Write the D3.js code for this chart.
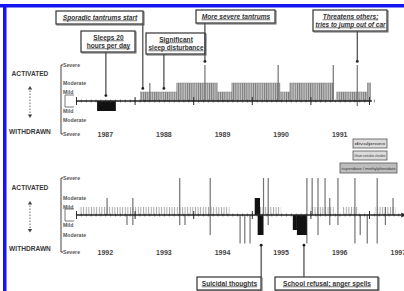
<!DOCTYPE html>
<html>
<head>
<meta charset="utf-8">
<script src="https://cdn.jsdelivr.net/npm/d3@7"></script>
<style>
  body { margin: 0; background: #fff; }
  svg { display: block; }
  text { font-family: Arial, "Liberation Sans", sans-serif; }
</style>
</head>
<body>
<div id="chart"></div>
<script>
// severity levels (positive = activated, negative = withdrawn)
const levelValues = [3, 2, 1, 0, -1, -2, -3];
const levelLabels = ['Severe', 'Moderate', 'Mild', '', 'Mild', 'Moderate', 'Severe'];

const topYears = [1987, 1988, 1989, 1990, 1991];
const bottomYears = [1992, 1993, 1994, 1995, 1996, 1997];

// shaded activated episodes: [start, end, level]
const topEpisodes = [
  [1988.10, 1988.72, 1], [1988.72, 1989.41, 2], [1989.41, 1989.66, 1],
  [1989.66, 1990.48, 2], [1990.48, 1990.65, 1], [1990.65, 1991.39, 2],
  [1991.45, 1991.97, 1], [1991.97, 1992.03, 2]
];
// single peaks: [date, up level, down level]
const topSpikes = [
  [1988.26, 2, 0], [1989.20, 3, 0], [1990.45, 3, 0], [1991.39, 3, 0], [1991.80, 3, -0.5]
];
// solid black episodes: [start, end, level]
const topSolid = [[1987.36, 1987.68, -1]];

const bottomEpisodes = [
  [1992.05, 1994.62, 1], [1995.05, 1995.50, 1], [1996.00, 1996.40, 1],
  [1996.55, 1996.82, 1], [1997.10, 1997.45, 1]
];
const bottomSpikes = [
  [1992.53, 2, 0], [1992.87, 0, -1], [1992.97, 2, -1], [1993.77, 3, -1], [1993.86, 0, -1],
  [1994.29, 3, -2], [1994.80, 0, -2.5], [1994.88, 0, -2.5], [1994.97, 0, -2.5],
  [1995.20, 3, 0], [1995.28, 3, -1], [1995.94, 3, -2.5], [1996.03, 3, 0],
  [1996.13, 3, -2], [1996.25, 3, 0], [1996.33, 2, -1], [1996.47, 3, -1],
  [1996.76, 3, -2.5], [1996.85, 0, -2], [1996.97, 0, -2.5], [1997.14, 3, -2.5],
  [1997.28, 1, -1], [1997.41, 2, 0]
];
const bottomSolid = [
  [1995.05, 1995.14, 2], [1995.10, 1995.20, -2],
  [1995.70, 1995.77, -1.5], [1995.77, 1995.94, -2]
];

// annotations: text lines, date, level pointed at
const topNotes = [
  { lines: ['Sporadic tantrums start'], date: 1988.14, level: 1.4, italic: true },
  { lines: ['Sleeps 20', 'hours per day'], date: 1987.51, level: 0.6, italic: false },
  { lines: ['Significant', 'sleep disturbance'], date: 1988.50, level: 1.4, italic: false },
  { lines: ['More severe tantrums'], date: 1989.20, level: 3.2, italic: true },
  { lines: ['Threatens others;', 'tries to jump out of car'], date: 1991.80, level: 3.2, italic: true }
];
const bottomNotes = [
  { lines: ['Suicidal thoughts'], date: 1995.16, level: -2.6 },
  { lines: ['School refusal; anger spells'], date: 1995.89, level: -2.6 }
];
const legendRows = ['divalproex', 'lithium  sertraline  clonidine', 'risperidone / methylphenidate'];

const W = 404, H = 291;
const svg = d3.select('#chart').append('svg').attr('width', W).attr('height', H);
svg.append('rect').attr('width', W).attr('height', H).attr('fill', '#fff');

const defs = svg.append('defs');
const hatch = defs.append('pattern').attr('id', 'hatch')
  .attr('patternUnits', 'userSpaceOnUse').attr('width', 2.2).attr('height', 10);
hatch.append('rect').attr('width', 2.2).attr('height', 10).attr('fill', '#c2c2c2');
hatch.append('line').attr('x1', 0.5).attr('x2', 0.5).attr('y1', 0).attr('y2', 10)
  .attr('stroke', '#6e6e6e').attr('stroke-width', 0.8);
const hatch2 = defs.append('pattern').attr('id', 'hatch2')
  .attr('patternUnits', 'userSpaceOnUse').attr('width', 2.6).attr('height', 10);
hatch2.append('line').attr('x1', 0.5).attr('x2', 0.5).attr('y1', 0).attr('y2', 10)
  .attr('stroke', '#a0a0a0').attr('stroke-width', 0.9);

// blue frame (top and left edges)
svg.append('rect').attr('x', 0).attr('y', 4).attr('width', W).attr('height', 3.5).attr('fill', '#1414f5');
svg.append('rect').attr('x', 3).attr('y', 4).attr('width', 3.5).attr('height', H - 4).attr('fill', '#1414f5');

function drawPanel(cfg) {
  const x = d3.scaleLinear().domain([cfg.years[0], cfg.years[0] + 5]).range([76, 369]);
  const y = d3.scaleLinear().domain(levelValues.slice().reverse()).range(cfg.yRange.slice().reverse());
  const base = y(0);
  const g = svg.append('g');

  // left key: ACTIVATED / WITHDRAWN
  g.append('text').attr('x', 30).attr('y', y(2.4)).attr('text-anchor', 'middle')
    .attr('font-size', 6.6).attr('fill', '#3a3a3a').attr('font-weight', 'bold').text('ACTIVATED');
  g.append('text').attr('x', 30).attr('y', y(-2.6) + 6).attr('text-anchor', 'middle')
    .attr('font-size', 6.6).attr('fill', '#3a3a3a').attr('font-weight', 'bold').text('WITHDRAWN');
  g.append('line').attr('x1', 30).attr('x2', 30).attr('y1', y(1.5)).attr('y2', y(-1.6))
    .attr('stroke', '#666').attr('stroke-width', 1).attr('stroke-dasharray', '1.5,1.5');
  g.append('path').attr('d', `M27.8,${y(1.5) + 2}L30,${y(1.5) - 1.5}L32.2,${y(1.5) + 2}Z`).attr('fill', '#444');
  g.append('path').attr('d', `M27.8,${y(-1.6) - 2}L30,${y(-1.6) + 1.5}L32.2,${y(-1.6) - 2}Z`).attr('fill', '#444');

  // bracket with severity labels
  g.append('path').attr('d', `M63,${y(3)}H61V${y(-3)}H63`).attr('fill', 'none')
    .attr('stroke', '#444').attr('stroke-width', 1);
  levelValues.forEach((v, i) => {
    if (!levelLabels[i]) return;
    g.append('text').attr('x', 63).attr('y', y(v) + 1.8).attr('font-size', 5.2)
      .attr('fill', '#555').attr('font-weight', 'bold').text(levelLabels[i]);
  });
  g.append('path').attr('d', `M74,${base - 6}H65V${base + 6}H74`).attr('fill', 'none')
    .attr('stroke', '#555').attr('stroke-width', 0.8);

  // episodes
  g.selectAll('.ep').data(cfg.episodes).enter().append('rect')
    .attr('x', d => x(d[0])).attr('width', d => x(d[1]) - x(d[0]))
    .attr('y', d => y(d[2])).attr('height', d => base - y(d[2]))
    .attr('fill', cfg.light ? 'url(#hatch2)' : 'url(#hatch)')
    .attr('stroke', cfg.light ? 'none' : '#888').attr('stroke-width', 0.5);

  g.selectAll('.sp').data(cfg.spikes).enter().append('line')
    .attr('x1', d => x(d[0])).attr('x2', d => x(d[0]))
    .attr('y1', d => y(d[1])).attr('y2', d => y(d[2]))
    .attr('stroke', '#737373').attr('stroke-width', 1.2);

  g.selectAll('.so').data(cfg.solid).enter().append('rect')
    .attr('x', d => x(d[0])).attr('width', d => x(d[1]) - x(d[0]))
    .attr('y', d => Math.min(y(d[2]), base)).attr('height', d => Math.abs(base - y(d[2])))
    .attr('fill', '#111');

  // baseline axis with monthly ticks
  const months = d3.range(0, cfg.axisEnd * 12 + 1).map(m => cfg.years[0] + m / 12);
  const axis = g.append('g').attr('transform', `translate(0,${base - 1.5})`)
    .call(d3.axisBottom(x).tickValues(months).tickSize(3).tickFormat(''));
  axis.select('.domain').remove();
  axis.selectAll('.tick line').attr('stroke', '#555').attr('stroke-width', 0.7);
  const yrTicks = d3.range(0, Math.floor(cfg.axisEnd) + 1).map(k => cfg.years[0] + k);
  const yAxis = g.append('g').attr('transform', `translate(0,${base - 4})`)
    .call(d3.axisBottom(x).tickValues(yrTicks).tickSize(8).tickFormat(''));
  yAxis.select('.domain').remove();
  yAxis.selectAll('.tick line').attr('stroke', '#333').attr('stroke-width', 1);
  g.append('line').attr('x1', 76).attr('x2', x(cfg.years[0] + cfg.axisEnd))
    .attr('y1', base).attr('y2', base).attr('stroke', '#222').attr('stroke-width', 1.3);
  if (cfg.arrow) {
    const ax = x(cfg.years[0] + cfg.axisEnd);
    g.append('path').attr('d', `M${ax},${base - 2.5}L${ax + 5},${base}L${ax},${base + 2.5}Z`).attr('fill', '#222');
  }

  // year labels
  g.selectAll('.yr').data(cfg.years).enter().append('text')
    .attr('x', d => x(d + 0.5)).attr('y', y(-3) + 3)
    .attr('text-anchor', 'middle').attr('font-size', 7).attr('font-weight', 'bold')
    .attr('fill', '#444').text(d => d);

  return { x, y, g };
}

function noteBox(g, x0, y0, w, lines, italic) {
  const h = lines.length * 8 + 5;
  g.append('rect').attr('x', x0 + 1).attr('y', y0 + 1).attr('width', w).attr('height', h)
    .attr('fill', 'none').attr('stroke', '#666').attr('stroke-width', 1);
  g.append('rect').attr('x', x0).attr('y', y0).attr('width', w).attr('height', h)
    .attr('fill', '#fff').attr('stroke', '#333').attr('stroke-width', 1.2);
  lines.forEach((t, i) => {
    const txt = g.append('text').attr('x', x0 + w / 2 + 0.5).attr('y', y0 + 8.5 + i * 8)
      .attr('text-anchor', 'middle').attr('font-size', 6.6).attr('fill', '#333')
      .attr('font-style', italic ? 'italic' : 'normal').attr('font-weight', 'bold')
      .attr('text-decoration', 'underline').text(t);
    // squeeze lines that would spill past the box
    if (txt.node().getComputedTextLength() > w - 4) {
      txt.attr('textLength', w - 4).attr('lengthAdjust', 'spacingAndGlyphs');
    }
  });
  return y0 + h;
}

const topPanel = drawPanel({
  years: topYears, yRange: [65, 83, 92, 101, 111, 120, 134],
  episodes: topEpisodes, spikes: topSpikes, solid: topSolid, axisEnd: 5.05, arrow: false
});
const bottomPanel = drawPanel({
  years: bottomYears, yRange: [178, 198, 207, 215, 225, 235, 252],
  episodes: bottomEpisodes, spikes: bottomSpikes, solid: bottomSolid, axisEnd: 5.55, arrow: true, light: true
});

// top annotations
const topBoxes = [[56, 11, 87], [81, 31, 54], [146, 33, 59], [196, 10, 79], [313, 10, 74]];
topNotes.forEach((n, i) => {
  const b = topBoxes[i];
  const yb = noteBox(topPanel.g, b[0], b[1], b[2], n.lines, n.italic);
  const lx = topPanel.x(n.date), ly = topPanel.y(n.level);
  topPanel.g.append('line').attr('x1', lx).attr('x2', lx).attr('y1', yb).attr('y2', ly)
    .attr('stroke', '#444').attr('stroke-width', 1.2);
  topPanel.g.append('circle').attr('cx', lx).attr('cy', ly).attr('r', 1.4).attr('fill', '#222');
});

// bottom annotations
const bottomBoxes = [[197, 277, 64], [275, 277, 103]];
bottomNotes.forEach((n, i) => {
  const b = bottomBoxes[i];
  noteBox(bottomPanel.g, b[0], b[1], b[2], n.lines, false);
  const lx = bottomPanel.x(n.date), ly = bottomPanel.y(n.level);
  bottomPanel.g.append('line').attr('x1', lx).attr('x2', lx).attr('y1', b[1]).attr('y2', ly)
    .attr('stroke', '#444').attr('stroke-width', 1.2);
  bottomPanel.g.append('circle').attr('cx', lx).attr('cy', ly).attr('r', 1.4).attr('fill', '#222');
});

// treatment legend (top right of lower panel)
const lg = svg.append('g');
const legendBoxes = [[353, 139, 34, 9], [353, 151, 34, 9], [340, 163, 57, 10]];
legendRows.forEach((t, i) => {
  const b = legendBoxes[i];
  lg.append('rect').attr('x', b[0]).attr('y', b[1]).attr('width', b[2]).attr('height', b[3])
    .attr('fill', i === 2 ? '#bdbdbd' : '#dcdcdc').attr('stroke', '#555').attr('stroke-width', 0.8);
  lg.append('text').attr('x', b[0] + b[2] / 2).attr('y', b[1] + b[3] / 2 + 1.6)
    .attr('text-anchor', 'middle').attr('font-size', i === 2 ? 4.3 : 3.6).attr('fill', '#333')
    .attr('textLength', b[2] - 3).attr('lengthAdjust', 'spacingAndGlyphs').text(t);
});
</script>
</body>
</html>
